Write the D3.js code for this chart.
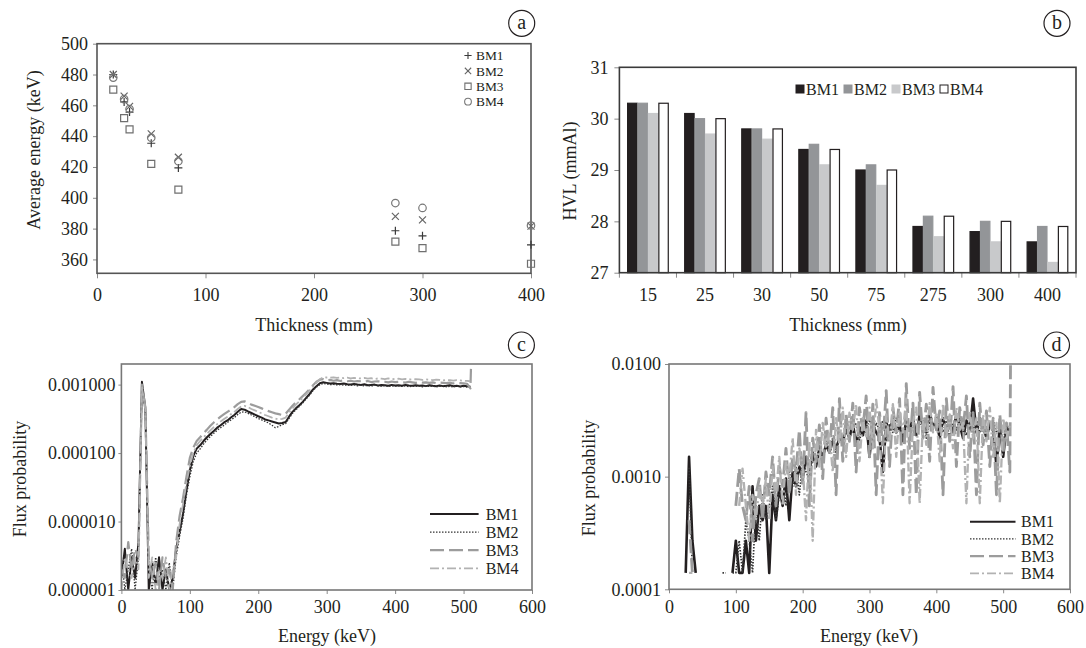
<!DOCTYPE html>
<html>
<head>
<meta charset="utf-8">
<script src="https://cdnjs.cloudflare.com/ajax/libs/d3/7.8.5/d3.min.js"></script>
<style>
    html, body { margin: 0; padding: 0; background: #fff; }
    svg, svg text { font-family: "Liberation Serif", "Times New Roman", Tinos, "DejaVu Serif", serif; }
</style>
</head>
<body>
<div id="fig"></div>
<script>
(function () {
    'use strict';

    var beams = ['BM1', 'BM2', 'BM3', 'BM4'];
    var serifFont = '"Liberation Serif", "Times New Roman", Tinos, "DejaVu Serif", serif';

    // (a) average energy vs phantom thickness
    var thicknessMm = [15, 25, 30, 50, 75, 275, 300, 400];
    var avgEnergyBM1 = [480, 462.2, 455.6, 435.4, 419.4, 378.6, 375.3, 369.5];
    var avgEnergyBM2 = [480, 466, 459.3, 441.5, 426.3, 387.9, 385.7, 381.6];
    var avgEnergyBM3 = [470.2, 451.7, 444.4, 422, 405.3, 371.6, 367.3, 357.2];
    var avgEnergyBM4 = [478, 464, 457.6, 439, 423.7, 396.6, 393.4, 382];
    var avgEnergyTicks = [360, 380, 400, 420, 440, 460, 480, 500];
    var thicknessTicks = [0, 100, 200, 300, 400];

    // (b) HVL per thickness
    var hvlCategories = ['15', '25', '30', '50', '75', '275', '300', '400'];
    var hvlBM1 = [30.3, 30.1, 29.8, 29.4, 29.0, 27.9, 27.8, 27.6];
    var hvlBM2 = [30.3, 30.0, 29.8, 29.5, 29.1, 28.1, 28.0, 27.9];
    var hvlBM3 = [30.1, 29.7, 29.6, 29.1, 28.7, 27.7, 27.6, 27.2];
    var hvlBM4 = [30.3, 30.0, 29.8, 29.4, 29.0, 28.1, 28.0, 27.9];
    var hvlTicks = [27, 28, 29, 30, 31];

    // (c), (d) spectra; energy bins in keV
    var spectrumEnergy = [
        0, 5, 10, 15, 20, 25, 30, 35, 40, 45,
        50, 55, 60, 65, 70, 75, 80, 85, 90, 95,
        100, 105, 110, 115, 120, 125, 130, 135, 140, 145,
        150, 155, 160, 165, 170, 175, 180, 185, 190, 195,
        200, 205, 210, 215, 220, 225, 230, 235, 240, 245,
        250, 255, 260, 265, 270, 275, 280, 285, 290, 295,
        300, 305, 310, 315, 320, 325, 330, 335, 340, 345,
        350, 355, 360, 365, 370, 375, 380, 385, 390, 395,
        400, 405, 410, 415, 420, 425, 430, 435, 440, 445,
        450, 455, 460, 465, 470, 475, 480, 485, 490, 495,
        500, 505, 510, 511
    ];

    // (c) flux probability, in units of 1e-6
    var fluxUnitC = 1e-6;
    var fluxC_BM1 = [
        1.5, 4, 1, 3, 1.5, 5, 1100, 450, 1, 2.5,
        1.2, 3, 1, 2, 1, 1.5, 4, 7, 13, 28,
        56, 90, 116, 130, 150, 170, 190, 210, 235, 255,
        280, 300, 330, 360, 400, 440, 430, 405, 385, 365,
        345, 330, 310, 300, 290, 280, 270, 275, 285, 340,
        400, 450, 500, 560, 640, 730, 850, 950, 1050, 1080,
        1060, 1040, 1050, 1030, 1020, 1040, 1010, 1000, 1020, 1000,
        990, 1010, 980, 990, 1000, 970, 990, 980, 960, 990,
        970, 980, 960, 990, 970, 960, 980, 960, 970, 950,
        980, 960, 950, 970, 950, 960, 980, 950, 960, 940,
        960, 950, 930, null
    ];
    var fluxC_BM2 = [
        3, 1, 2, 4, 1, 3, 900, 400, 2, 1,
        3, 1.5, 2, 1, 2.5, 1, 3, 6, 11, 24,
        45, 75, 100, 115, 135, 155, 175, 195, 215, 235,
        255, 280, 305, 330, 365, 395, 400, 380, 360, 340,
        320, 305, 290, 275, 255, 235, 245, 260, 270, 320,
        380, 430, 480, 540, 620, 700, 820, 920, 1000, 1040,
        1020, 1000, 1010, 990, 1000, 980, 990, 970, 990, 960,
        980, 960, 970, 950, 980, 960, 950, 970, 940, 960,
        950, 960, 940, 960, 930, 950, 940, 960, 930, 950,
        940, 950, 930, 940, 960, 930, 940, 920, 950, 930,
        940, 920, 910, null
    ];
    var fluxC_BM3 = [
        2, 1.5, 5, 2, 4, 3, 1000, 470, 3, 1.5,
        2.5, 1, 3, 1.5, 2, 1, 5, 12, 22, 45,
        85, 120, 150, 170, 195, 220, 250, 280, 310, 340,
        370, 400, 430, 470, 520, 560, 570, 540, 510, 490,
        470, 450, 430, 410, 395, 380, 370, 360, 375, 430,
        490, 550, 610, 680, 760, 860, 980, 1100, 1180, 1200,
        1150, 1170, 1140, 1160, 1130, 1150, 1120, 1140, 1110, 1130,
        1120, 1100, 1130, 1090, 1110, 1120, 1090, 1100, 1080, 1110,
        1090, 1100, 1080, 1070, 1100, 1080, 1060, 1090, 1070, 1080,
        1060, 1080, 1050, 1070, 1060, 1050, 1070, 1040, 1060, 1050,
        1040, 1030, 880, 5000
    ];
    var fluxC_BM4 = [
        1, 3, 2, 1.5, 3, 2, 950, 420, 1.5, 3,
        1, 2, 1.5, 3, 1, 2, 3, 9, 18, 36,
        65, 100, 130, 150, 170, 190, 215, 240, 265, 290,
        315, 340, 370, 400, 440, 480, 490, 470, 440, 420,
        400, 380, 360, 345, 330, 320, 310, 315, 330, 390,
        450, 510, 570, 640, 720, 820, 940, 1060, 1200, 1280,
        1270, 1260, 1280, 1250, 1270, 1240, 1260, 1230, 1250, 1240,
        1230, 1250, 1220, 1240, 1210, 1230, 1220, 1200, 1230, 1210,
        1200, 1220, 1190, 1210, 1200, 1180, 1200, 1190, 1170, 1190,
        1180, 1160, 1180, 1170, 1150, 1170, 1160, 1140, 1160, 1150,
        1140, 1130, 1120, null
    ];
    var fluxTicksC = [1e-6, 1e-5, 1e-4, 1e-3];

    // (d) flux probability, in units of 1e-4 (null = empty bin)
    var fluxUnitD = 1e-4;
    var fluxD_BM1 = [
        null, null, null, null, null, 1.4, 15, 2.7, 1.4, null,
        null, null, null, null, null, null, null, null, null, 1.4,
        2.7, 1.4, 1.4, 2.7, 1.4, 8.2, 2.7, 5.5, 4.1, 5.5,
        1.4, 6.9, 4.1, 8.2, 5.5, 9.6, 4.1, 11, 8.2, 12.3,
        9.6, 15, 11, 16.4, 12.3, 17.8, 15, 19.2, 16.4, 20.6,
        17.8, 22, 20.6, 26, 22, 30, 19.2, 27.4, 23.3, 31.5,
        15, 28.8, 24.7, 22, 11, 30, 26, 33, 24.7, 28.8,
        20.6, 31.5, 26, 33, 23.3, 35.6, 28.8, 24.7, 37, 27.4,
        31.5, 22, 33, 26, 30, 24.7, 35.6, 28.8, 22, 31.5,
        26, 49.3, 24.7, 33, 28.8, 22, 30, 26, 12.3, 28.8,
        15, 27.4, 24.7, null
    ];
    var fluxD_BM2 = [
        null, null, null, null, null, null, 12, 1.4, null, null,
        null, null, null, null, null, null, 1.4, 1.4, null, 1.4,
        1.4, 2.7, 1.4, 4.1, 2.7, 1.4, 5.5, 2.7, 6.9, 4.1,
        5.5, 8.2, 4.1, 6.9, 9.6, 5.5, 11, 8.2, 12.3, 6.9,
        13.7, 11, 9.6, 15, 12.3, 19.2, 13.7, 20.6, 17.8, 22,
        16.4, 24.7, 19.2, 27.4, 22, 26, 30, 20.6, 28.8, 24.7,
        33, 22, 30, 26, 31.5, 20.6, 28.8, 24.7, 33, 27.4,
        22, 30, 26, 31.5, 24.7, 28.8, 33, 22, 30, 26,
        35.6, 28.8, 24.7, 31.5, 22, 30, 26, 33, 27.4, 23.3,
        30, 26, 31.5, 24.7, 28.8, 22, 27.4, 31.5, 24.7, 26,
        20.6, 28.8, 26, null
    ];
    var fluxD_BM3 = [
        null, null, null, null, null, null, 4.1, 1.4, null, null,
        null, null, null, null, null, null, null, null, null, null,
        5.5, 11.8, 5.5, 4.1, 8.2, 2.7, 6.9, 9.6, 4.1, 11,
        6.9, 15, 5.5, 12.3, 8.2, 17.8, 6.9, 15, 11, 26,
        8.2, 37, 5.5, 22, 13.7, 28.8, 9.6, 33, 16.4, 41,
        6.9, 49.3, 13.7, 35.6, 20.6, 45, 11, 41, 26, 52,
        15, 44, 6.9, 37, 19.2, 58, 12.3, 41, 24.7, 49.3,
        6.9, 67, 17.8, 45, 6.9, 56, 22, 44, 13.7, 62,
        26, 38.4, 6.9, 49.3, 20.6, 63, 12.3, 41, 26, 52,
        15, 37, 6.9, 45, 19.2, 38.4, 12.3, 33, 6.9, 35.6,
        16.4, 30, 11, 200
    ];
    var fluxD_BM4 = [
        null, null, null, null, null, null, 1.4, 1.4, null, null,
        null, null, null, null, null, null, null, null, null, null,
        null, 5.5, 11.8, 5.5, 2.7, 6.9, 4.1, 8.2, 5.5, 9.6,
        4.1, 12.3, 6.9, 15, 5.5, 13.7, 9.6, 22, 6.9, 17.8,
        12.3, 4.1, 20.6, 2.7, 26, 12.3, 30, 17.8, 24.7, 11,
        33, 19.2, 41, 15, 37, 26, 44, 13.7, 33, 22,
        41, 17.8, 48, 26, 5.8, 35.6, 20.6, 44, 15, 38.4,
        24.7, 49.3, 5.8, 30, 41, 5.8, 33, 19.2, 45, 24.7,
        37, 13.7, 44, 22, 35.6, 17.8, 41, 26, 30, 5.8,
        38.4, 22, 33, 5.8, 35.6, 20.6, 41, 15, 30, 5.8,
        33, 22, 28.8, null
    ];
    var fluxTicksD = [1e-4, 1e-3, 1e-2];
    var energyTicks = [0, 100, 200, 300, 400, 500, 600];

    var W = 1086, H = 648;
    var svg = d3.select('#fig').append('svg')
        .attr('width', W)
        .attr('height', H)
        .attr('font-family', serifFont);

    var styleAxis = function (g) {
        g.attr('font-family', serifFont);
        g.select('.domain').remove();
        g.selectAll('.tick line').attr('stroke', '#8a8a8a');
        g.selectAll('.tick text')
            .attr('fill', '#231f20')
            .attr('font-family', serifFont)
            .style('font-size', '18px');
    };

    var frame = function (box, color) {
        svg.append('rect')
            .attr('x', box.left)
            .attr('y', box.top)
            .attr('width', box.right - box.left)
            .attr('height', box.bottom - box.top)
            .attr('fill', 'none')
            .attr('stroke', color)
            .attr('stroke-width', 1.6);
    };

    var title = function (text, x, y, rotate) {
        var t = svg.append('text')
            .attr('text-anchor', 'middle')
            .attr('dy', '0.35em')
            .attr('fill', '#231f20')
            .attr('font-family', serifFont)
            .style('font-size', '18px')
            .text(text);
        if (rotate) {
            t.attr('transform', 'translate(' + x + ',' + y + ') rotate(-90)');
        } else {
            t.attr('x', x).attr('y', y);
        }
    };

    var panelTag = function (letter, x, y) {
        svg.append('circle')
            .attr('cx', x).attr('cy', y).attr('r', 13)
            .attr('fill', 'none')
            .attr('stroke', '#231f20')
            .attr('stroke-width', 1.2);
        svg.append('text')
            .attr('x', x).attr('y', y)
            .attr('dy', '0.3em')
            .attr('text-anchor', 'middle')
            .attr('fill', '#231f20')
            .attr('font-family', serifFont)
            .style('font-size', '20px')
            .text(letter);
    };

    // ---------------- (a) ----------------
    var boxA = {left: 97, right: 531, top: 43.7, bottom: 273.3};
    var xA = d3.scaleLinear().domain([0, 400]).range([boxA.left, boxA.right]);
    var yA = d3.scaleLinear().domain([351, 500]).range([boxA.bottom, boxA.top]);

    svg.append('g')
        .attr('transform', 'translate(0,' + boxA.bottom + ')')
        .call(d3.axisBottom(xA).tickValues(thicknessTicks).tickSize(5).tickPadding(10))
        .call(styleAxis);
    svg.append('g')
        .attr('transform', 'translate(' + boxA.left + ',0)')
        .call(d3.axisLeft(yA).tickValues(avgEnergyTicks).tickSize(4).tickPadding(5))
        .call(styleAxis);
    frame(boxA, '#555');

    var markerA = {
        BM1: {path: 'M-4,0H4M0,-4V4', color: '#3a3a3a'},
        BM2: {path: 'M-3.5,-3.5L3.5,3.5M-3.5,3.5L3.5,-3.5', color: '#666'},
        BM3: {path: 'M-3.5,-3.5H3.5V3.5H-3.5Z', color: '#6f6f6f'},
        BM4: {path: d3.symbol(d3.symbolCircle, 44)(), color: '#777'}
    };
    var seriesA = {BM1: avgEnergyBM1, BM2: avgEnergyBM2, BM3: avgEnergyBM3, BM4: avgEnergyBM4};

    beams.forEach(function (b) {
        var pts = thicknessMm.map(function (t, i) { return {x: t, y: seriesA[b][i]}; });
        svg.append('g').selectAll('path')
            .data(pts)
            .enter()
            .append('path')
            .attr('d', markerA[b].path)
            .attr('transform', function (d) { return 'translate(' + xA(d.x) + ',' + yA(d.y) + ')'; })
            .attr('fill', 'none')
            .attr('stroke', markerA[b].color)
            .attr('stroke-width', 1.2);
    });

    var legA = svg.append('g');
    beams.forEach(function (b, i) {
        var y = 55.5 + i * 15.4;
        legA.append('path')
            .attr('d', markerA[b].path)
            .attr('transform', 'translate(468,' + y + ') scale(0.9)')
            .attr('fill', 'none')
            .attr('stroke', markerA[b].color)
            .attr('stroke-width', 1.2);
        legA.append('text')
            .attr('x', 476).attr('y', y)
            .attr('dy', '0.35em')
            .attr('fill', '#231f20')
            .attr('font-family', serifFont)
            .style('font-size', '13.4px')
            .text(b);
    });

    title('Thickness (mm)', 314, 325);
    title('Average energy (keV)', 34, 150, true);
    panelTag('a', 521.7, 23.3);

    // ---------------- (b) ----------------
    var boxB = {left: 619.4, right: 1076, top: 67.3, bottom: 272.7};
    var xB = d3.scaleBand().domain(hvlCategories)
        .range([boxB.left, boxB.right])
        .paddingInner(0.27)
        .paddingOuter(0.135);
    var xInner = d3.scaleBand().domain(beams).range([0, xB.bandwidth()]);
    var yB = d3.scaleLinear().domain([27, 31]).range([boxB.bottom, boxB.top]);

    svg.append('g')
        .attr('transform', 'translate(0,' + boxB.bottom + ')')
        .call(d3.axisBottom(xB).tickSize(0).tickPadding(16))
        .call(styleAxis);
    svg.append('g')
        .attr('transform', 'translate(' + boxB.left + ',0)')
        .call(d3.axisLeft(yB).tickValues(hvlTicks).tickFormat(d3.format('d')).tickSize(5).tickPadding(6))
        .call(styleAxis);

    var bounds = d3.range(hvlCategories.length + 1);
    svg.append('g').selectAll('line')
        .data(bounds)
        .enter()
        .append('line')
        .attr('x1', function (i) { return boxB.left + i * xB.step(); })
        .attr('x2', function (i) { return boxB.left + i * xB.step(); })
        .attr('y1', boxB.bottom)
        .attr('y2', boxB.bottom + 5)
        .attr('stroke', '#8a8a8a');

    var barStyle = {
        BM1: {fill: '#231f20', stroke: '#231f20'},
        BM2: {fill: '#939598', stroke: '#939598'},
        BM3: {fill: '#c8c9cb', stroke: '#c8c9cb'},
        BM4: {fill: '#ffffff', stroke: '#231f20'}
    };
    var seriesB = {BM1: hvlBM1, BM2: hvlBM2, BM3: hvlBM3, BM4: hvlBM4};

    beams.forEach(function (b) {
        svg.append('g').selectAll('rect')
            .data(hvlCategories.map(function (c, i) { return {c: c, v: seriesB[b][i]}; }))
            .enter()
            .append('rect')
            .attr('x', function (d) { return xB(d.c) + xInner(b) + 0.5; })
            .attr('y', function (d) { return yB(d.v); })
            .attr('width', xInner.bandwidth() - 1)
            .attr('height', function (d) { return yB(27) - yB(d.v); })
            .attr('fill', barStyle[b].fill)
            .attr('stroke', barStyle[b].stroke)
            .attr('stroke-width', 1.2);
    });
    frame(boxB, '#3a3a3a');

    var legB = svg.append('g');
    beams.forEach(function (b, i) {
        var x = 796 + i * 48;
        legB.append('rect')
            .attr('x', x).attr('y', 85)
            .attr('width', 8).attr('height', 8)
            .attr('fill', barStyle[b].fill)
            .attr('stroke', barStyle[b].stroke)
            .attr('stroke-width', 1);
        legB.append('text')
            .attr('x', x + 10).attr('y', 89.3)
            .attr('dy', '0.35em')
            .attr('fill', '#231f20')
            .attr('font-family', serifFont)
            .style('font-size', '16px')
            .text(b);
    });

    title('Thickness (mm)', 848, 325);
    title('HVL (mmAl)', 569.6, 171, true);
    panelTag('b', 1057, 23.3);

    // ---------------- (c) and (d) spectra ----------------
    var lineStyle = {
        BM1: {color: '#231f20', width: 2, dash: null},
        BM2: {color: '#333', width: 1.3, dash: '1.5,1.5'},
        BM3: {color: '#9c9c9c', width: 2.2, dash: '14,5'},
        BM4: {color: '#b2b2b2', width: 1.8, dash: '9,3,2,3'}
    };

    var drawSpectrum = function (cfg) {
        var box = cfg.box;
        var x = d3.scaleLinear().domain([0, 600]).range([box.left, box.right]);
        var y = d3.scaleLog().domain(cfg.yDomain).range([box.bottom, box.top]).clamp(true);

        svg.append('g')
            .attr('transform', 'translate(0,' + box.bottom + ')')
            .call(d3.axisBottom(x).tickValues(energyTicks).tickSize(4).tickPadding(cfg.xPad))
            .call(styleAxis);
        svg.append('g')
            .attr('transform', 'translate(' + box.left + ',0)')
            .call(d3.axisLeft(y).tickValues(cfg.yTicks).tickFormat(d3.format(cfg.fmt)).tickSize(cfg.yTick).tickPadding(cfg.yPad))
            .call(styleAxis);

        var clipId = 'clip-' + cfg.tag;
        svg.append('clipPath').attr('id', clipId)
            .append('rect')
            .attr('x', box.left).attr('y', box.top)
            .attr('width', box.right - box.left)
            .attr('height', box.bottom - box.top);

        var line = d3.line()
            .defined(function (d) { return d.v != null; })
            .x(function (d) { return x(d.e); })
            .y(function (d) { return y(d.v * cfg.unit); });

        var plot = svg.append('g').attr('clip-path', 'url(#' + clipId + ')');
        beams.forEach(function (b) {
            var pts = spectrumEnergy.map(function (e, i) { return {e: e, v: cfg.series[b][i]}; });
            plot.append('path')
                .datum(pts)
                .attr('d', line)
                .attr('fill', 'none')
                .attr('stroke', lineStyle[b].color)
                .attr('stroke-width', lineStyle[b].width * cfg.widthScale)
                .attr('stroke-dasharray', lineStyle[b].dash)
                .attr('stroke-linejoin', 'round');
        });
        frame(box, '#777');

        var leg = svg.append('g');
        beams.forEach(function (b, i) {
            var ly = cfg.leg.y + i * cfg.leg.dy;
            leg.append('line')
                .attr('x1', cfg.leg.x1).attr('x2', cfg.leg.x2)
                .attr('y1', ly).attr('y2', ly)
                .attr('stroke', lineStyle[b].color)
                .attr('stroke-width', lineStyle[b].width)
                .attr('stroke-dasharray', lineStyle[b].dash);
            leg.append('text')
                .attr('x', cfg.leg.tx).attr('y', ly)
                .attr('dy', '0.35em')
                .attr('fill', '#231f20')
                .attr('font-family', serifFont)
                .style('font-size', '16px')
                .text(b);
        });
    };

    drawSpectrum({
        tag: 'c',
        box: {left: 121.4, right: 532, top: 364, bottom: 590},
        yDomain: [1e-6, 2e-3],
        yTicks: fluxTicksC,
        fmt: '.6f',
        unit: fluxUnitC,
        series: {BM1: fluxC_BM1, BM2: fluxC_BM2, BM3: fluxC_BM3, BM4: fluxC_BM4},
        widthScale: 1,
        xPad: 6, yTick: 3, yPad: 3,
        leg: {x1: 430, x2: 478.6, tx: 485.7, y: 514, dy: 18.1}
    });
    title('Energy (keV)', 327, 636);
    title('Flux probability', 19.6, 479, true);
    panelTag('c', 521.4, 345);

    drawSpectrum({
        tag: 'd',
        box: {left: 669, right: 1070, top: 364, bottom: 589.3},
        yDomain: [1e-4, 1e-2],
        yTicks: fluxTicksD,
        fmt: '.4f',
        unit: fluxUnitD,
        series: {BM1: fluxD_BM1, BM2: fluxD_BM2, BM3: fluxD_BM3, BM4: fluxD_BM4},
        widthScale: 1.3,
        xPad: 7, yTick: 4, yPad: 4,
        leg: {x1: 970, x2: 1015.5, tx: 1021, y: 521.7, dy: 17.2}
    });
    title('Energy (keV)', 869, 636);
    title('Flux probability', 588.5, 478, true);
    panelTag('d', 1056.5, 345);
}());
</script>
</body>
</html>
